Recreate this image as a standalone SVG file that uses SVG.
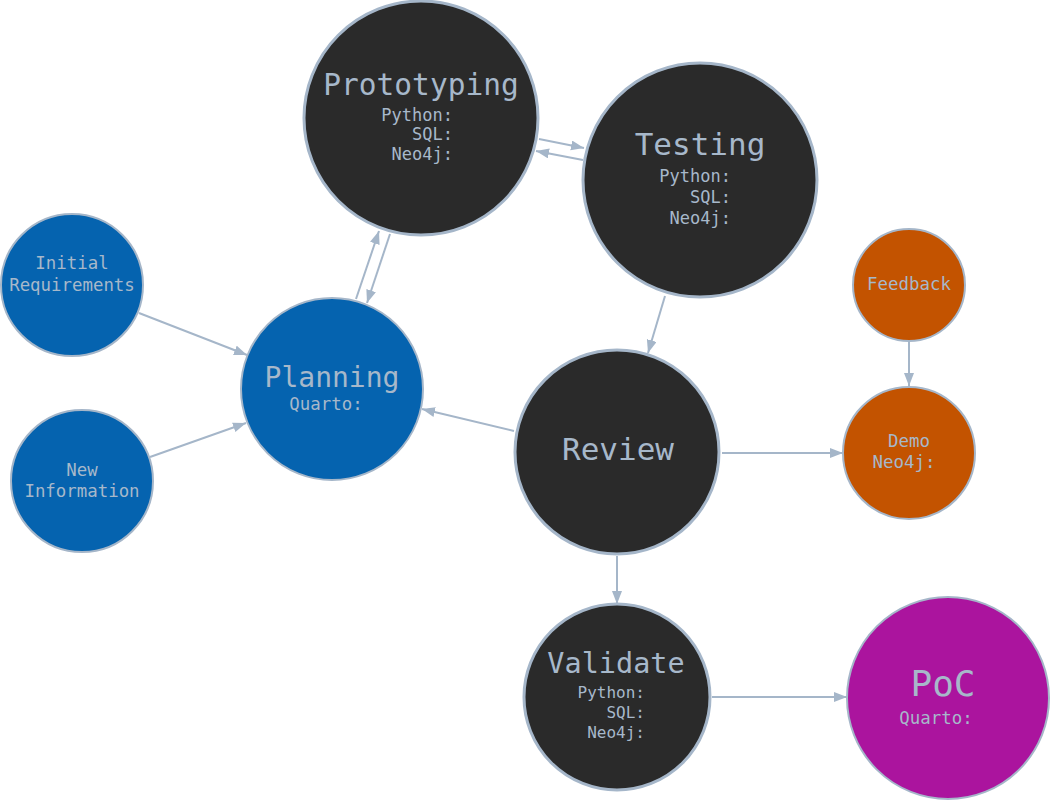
<svg xmlns="http://www.w3.org/2000/svg" width="1051" height="800" viewBox="0 0 1051 800">
<defs>
<marker id="arr" markerUnits="userSpaceOnUse" markerWidth="14" markerHeight="12" refX="13" refY="5" orient="auto">
<path d="M0,0 L13,5 L0,10 z" fill="#a5b6c9"/>
</marker>
<style>
.e{stroke:#a5b6c9;stroke-width:2;fill:none;marker-end:url(#arr)}
.dk{fill:#2a2a2a;stroke:#a5b6c9;stroke-width:3}
.bl{fill:#0563af;stroke:#a5b6c9;stroke-width:2}
.or{fill:#c35300;stroke:#a5b6c9;stroke-width:2}
.pu{fill:#ab149e;stroke:#a5b6c9;stroke-width:2}
text{font-family:"DejaVu Sans Mono","Liberation Mono",monospace;fill:#a7b8ca}
.t{font-size:30px;text-anchor:middle}
.s{font-size:17px;text-anchor:end}
.m{font-size:17.4px;text-anchor:middle}
</style>
</defs>
<rect width="1051" height="800" fill="#ffffff"/>
<g id="connectors">
<line class="e" x1="139" y1="313" x2="247" y2="355"/>
<line class="e" x1="150" y1="457" x2="246" y2="423"/>
<line class="e" x1="356" y1="299" x2="379" y2="231"/>
<line class="e" x1="390" y1="234" x2="367" y2="303"/>
<line class="e" x1="539" y1="139" x2="584" y2="148"/>
<line class="e" x1="583" y1="160" x2="536" y2="151"/>
<line class="e" x1="665" y1="296" x2="648" y2="353"/>
<line class="e" x1="514" y1="431" x2="422" y2="409"/>
<line class="e" x1="722" y1="453" x2="843" y2="453"/>
<line class="e" x1="909" y1="342" x2="909" y2="386"/>
<line class="e" x1="617" y1="556" x2="617" y2="604"/>
<line class="e" x1="712" y1="697" x2="847" y2="697"/>
</g>
<g id="prototyping">
<circle class="dk" cx="421" cy="118" r="117"/>
<text class="t" x="421" y="95" style="font-size:29.5px">Prototyping</text>
<text class="s" x="453" y="121">Python:</text>
<text class="s" x="453" y="140">SQL:</text>
<text class="s" x="453" y="160">Neo4j:</text>
</g>
<g id="testing">
<circle class="dk" cx="700" cy="180" r="117"/>
<text class="t" x="700" y="155" style="font-size:31px">Testing</text>
<text class="s" x="731" y="182">Python:</text>
<text class="s" x="731" y="203">SQL:</text>
<text class="s" x="731" y="224">Neo4j:</text>
</g>
<g id="initial">
<circle class="bl" cx="72" cy="285" r="71"/>
<text class="m" x="72" y="269">Initial</text>
<text class="m" x="72" y="291">Requirements</text>
</g>
<g id="newinfo">
<circle class="bl" cx="82" cy="481" r="71"/>
<text class="m" x="82" y="476">New</text>
<text class="m" x="82" y="497">Information</text>
</g>
<g id="planning">
<circle class="bl" cx="332" cy="389" r="91"/>
<text class="t" x="332" y="387" style="font-size:28px">Planning</text>
<text class="m" x="326" y="410">Quarto:</text>
</g>
<g id="review">
<circle class="dk" cx="617" cy="452" r="102"/>
<text class="t" x="618" y="460" style="font-size:31px">Review</text>
</g>
<g id="feedback">
<circle class="or" cx="909" cy="285" r="56"/>
<text class="m" x="909" y="290">Feedback</text>
</g>
<g id="demo">
<circle class="or" cx="909" cy="453" r="66"/>
<text class="m" x="909" y="447">Demo</text>
<text class="m" x="904" y="468">Neo4j:</text>
</g>
<g id="validate">
<circle class="dk" cx="617" cy="697" r="93"/>
<text class="t" x="616" y="673" style="font-size:28.5px">Validate</text>
<text class="s" x="645" y="698" style="font-size:16px">Python:</text>
<text class="s" x="645" y="718" style="font-size:16px">SQL:</text>
<text class="s" x="645" y="738" style="font-size:16px">Neo4j:</text>
</g>
<g id="poc">
<circle class="pu" cx="948" cy="698" r="101"/>
<text class="t" x="943" y="696" style="font-size:36px">PoC</text>
<text class="m" x="936" y="724">Quarto:</text>
</g>
</svg>
